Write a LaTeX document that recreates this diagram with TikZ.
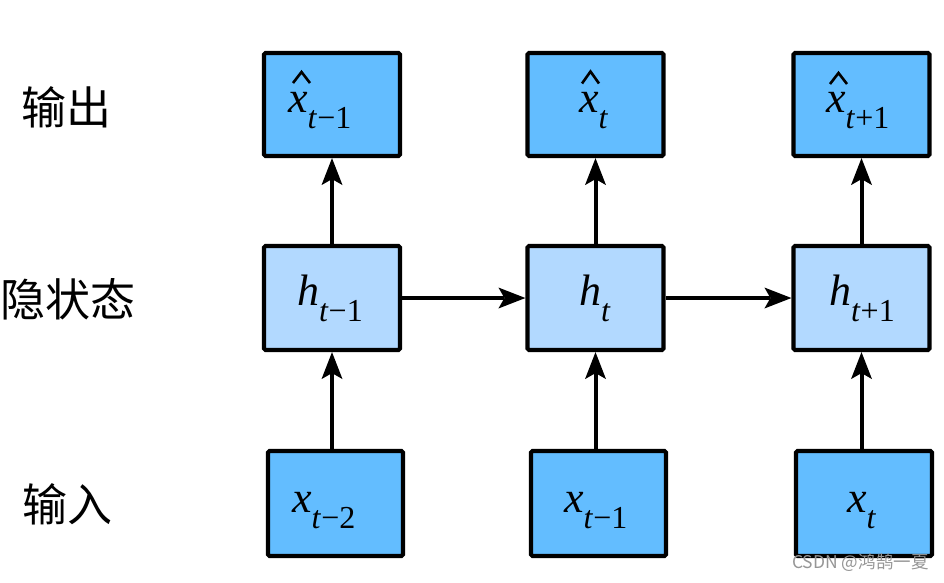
\documentclass[tikz,border=0pt]{standalone}
\usepackage{fontspec}
\setmainfont{Liberation Serif}
\newfontfamily\cjk{Noto Sans CJK SC}
\usetikzlibrary{arrows.meta}
\definecolor{outblue}{RGB}{99,189,255}
\definecolor{hidblue}{RGB}{178,217,255}
\definecolor{wmgray}{RGB}{150,150,150}
\tikzset{
  cell/.style={draw=black, line width=4.2pt, rounded corners=1.5pt, inner sep=0pt,
    minimum width=136pt, minimum height=103pt},
  iobox/.style={cell, fill=outblue},
  hidbox/.style={cell, fill=hidblue},
  conn/.style={line width=4pt, -{Stealth[length=27pt,width=21pt,inset=6pt,line width=0pt]}},
  lab/.style={inner sep=0pt, anchor=base west},
  sidelab/.style={inner sep=0pt, anchor=center, font=\cjk\fontsize{45}{45}\selectfont},
  hatline/.style={line width=2.6pt, line join=miter}
}
\newcommand{\mainsym}[1]{{\fontsize{44}{44}\selectfont\itshape #1}}
\newcommand{\subsym}[1]{\raisebox{-16pt}{\fontsize{32}{32}\selectfont #1}}
\begin{document}
\begin{tikzpicture}[x=1pt,y=-1pt]
\path[use as bounding box, fill=white] (0,0) rectangle (944,582);

% boxes
\node[iobox, minimum height=103pt] (o1) at (332,104.5) {};
\node[iobox, minimum height=103pt] (o2) at (595.5,104.5) {};
\node[iobox, minimum height=103pt] (o3) at (861.5,104.5) {};
\node[hidbox, minimum height=104pt] (h1) at (332,298) {};
\node[hidbox, minimum height=104pt] (h2) at (595.5,298) {};
\node[hidbox, minimum height=104pt] (h3) at (861.5,298) {};
\node[iobox, minimum width=135pt, minimum height=105pt] (i1) at (335.5,503.5) {};
\node[iobox, minimum width=135pt, minimum height=105pt] (i2) at (598.5,503.5) {};
\node[iobox, minimum width=136pt, minimum height=105pt] (i3) at (864,503.5) {};

% connectors
\draw[conn] (h1.north) -- (o1.south);
\draw[conn] (h2.north) -- (o2.south);
\draw[conn] (h3.north) -- (o3.south);
\draw[conn] (h1.south |- i1.north) -- (h1.south);
\draw[conn] (h2.south |- i2.north) -- (h2.south);
\draw[conn] (h3.south |- i3.north) -- (h3.south);
\draw[conn] (h1.east) -- (h2.west);
\draw[conn] (h2.east) -- (h3.west);

% labels in boxes
\node[lab] (lo1) at (288,112) {\mainsym{x}\subsym{\textit{t}−1}};
\node[lab] (lo2) at (579,112) {\mainsym{x}\subsym{\textit{t}}};
\node[lab] (lo3) at (826,112) {\mainsym{x}\subsym{\textit{t}+1}};
\draw[hatline] (293,83) -- (301.5,72) -- (310,83);
\draw[hatline] (582,83.5) -- (590.5,71.5) -- (599,83.5);
\draw[hatline] (830,84) -- (838.5,73) -- (847,84);

\node[lab] (lh1) at (297,305) {\mainsym{h}\subsym{\textit{t}−1}};
\node[lab] (lh2) at (579,305) {\mainsym{h}\subsym{\textit{t}}};
\node[lab] (lh3) at (829,305) {\mainsym{h}\subsym{\textit{t}+1}};

\node[lab] (li1) at (292,512) {\mainsym{x}\subsym{\textit{t}−2}};
\node[lab] (li2) at (564,512) {\mainsym{x}\subsym{\textit{t}−1}};
\node[lab] (li3) at (847,512) {\mainsym{x}\subsym{\textit{t}}};

% side labels
\node[sidelab] (s1) at (66.5,107) {输出};
\node[sidelab] (s2) at (67.5,299) {隐状态};
\node[sidelab] (s3) at (67,504) {输入};

% watermark
\node[inner sep=0pt, anchor=base west, text=wmgray, font=\cjk\fontsize{17.5}{17.5}\selectfont] (wm) at (792,568) {CSDN @鸿鹄一夏};
\end{tikzpicture}
\end{document}
